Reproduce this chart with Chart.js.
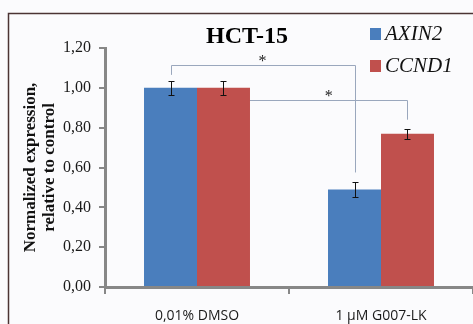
<!DOCTYPE html>
<html>
<head>
<meta charset="utf-8">
<script src="https://cdn.jsdelivr.net/npm/chart.js@4/dist/chart.umd.min.js"></script>
<style>
  html, body { margin: 0; padding: 0; background: #fbfbfd; }
  canvas { display: block; }
</style>
</head>
<body>
<canvas id="myChart" width="473" height="324"></canvas>
<script>
// groups and genes
const groups = ['0,01% DMSO', '1 µM G007-LK'];
const genes = ['AXIN2', 'CCND1'];

// normalized expression (relative to control) and error bar half-widths
const axin2Values = [1.00, 0.49];
const axin2Errors = [0.035, 0.037];
const ccnd1Values = [1.00, 0.77];
const ccnd1Errors = [0.035, 0.025];

const yTickLabels = ['0,00', '0,20', '0,40', '0,60', '0,80', '1,00', '1,20'];

// significance brackets: from group 0 to group 1 of the same gene
const brackets = [
  { ds: 0, level: 1.115, leftDrop: 1.065, rightDrop: 0.575 },
  { ds: 1, level: 0.94, leftDrop: 0.94, rightDrop: 0.84 }
];

const blue = '#4a7ebd';
const red = '#c0504d';
const axisGray = '#878787';

const background = {
  id: 'background',
  beforeDraw(chart) {
    const ctx = chart.ctx;
    ctx.save();
    ctx.fillStyle = '#fbfbfd';
    ctx.fillRect(0, 0, chart.width, chart.height);
    // frame around the figure
    ctx.strokeStyle = '#4b3434';
    ctx.lineWidth = 1.5;
    ctx.beginPath();
    ctx.moveTo(8.5, chart.height);
    ctx.lineTo(8.5, 13.5);
    ctx.lineTo(chart.width, 13.5);
    ctx.stroke();
    ctx.restore();
  }
};

const sigBrackets = {
  id: 'sigBrackets',
  beforeDatasetsDraw(chart) {
    const ctx = chart.ctx;
    const y = chart.scales.y;
    ctx.save();
    ctx.strokeStyle = '#9aa7bd';
    ctx.lineWidth = 1;
    brackets.forEach(b => {
      const bars = chart.getDatasetMeta(b.ds).data;
      const x0 = Math.round(bars[0].x) + 0.5;
      const x1 = Math.round(bars[1].x) + 0.5;
      const yl = Math.round(y.getPixelForValue(b.level)) + 0.5;
      ctx.beginPath();
      ctx.moveTo(x0, y.getPixelForValue(b.leftDrop));
      ctx.lineTo(x0, yl);
      ctx.lineTo(x1, yl);
      ctx.lineTo(x1, y.getPixelForValue(b.rightDrop));
      ctx.stroke();
    });
    ctx.restore();
  },
  afterDatasetsDraw(chart) {
    const ctx = chart.ctx;
    const y = chart.scales.y;
    const data = chart.data.datasets;
    ctx.save();
    ctx.fillStyle = '#222';
    ctx.font = '16px "Liberation Serif"';
    ctx.textAlign = 'center';
    ctx.textBaseline = 'alphabetic';
    brackets.forEach(b => {
      const bars = chart.getDatasetMeta(b.ds).data;
      // the visible part of the line starts where the first bar ends
      let start = bars[0].x;
      if (b.level < data[b.ds].data[0]) start = bars[0].x + bars[0].width / 2;
      const mid = (start + bars[1].x) / 2;
      ctx.fillText('*', mid, y.getPixelForValue(b.level) + 1);
    });
    ctx.restore();
  }
};

const errorBars = {
  id: 'errorBars',
  afterDatasetsDraw(chart) {
    const ctx = chart.ctx;
    const y = chart.scales.y;
    ctx.save();
    ctx.strokeStyle = '#111';
    ctx.lineWidth = 1;
    chart.data.datasets.forEach((ds, i) => {
      chart.getDatasetMeta(i).data.forEach((bar, j) => {
        const v = ds.data[j], e = ds.errors[j];
        const x = Math.round(bar.x) + 0.5;
        const top = Math.round(y.getPixelForValue(v + e)) + 0.5;
        const bot = Math.round(y.getPixelForValue(v - e)) + 0.5;
        ctx.beginPath();
        ctx.moveTo(x, top); ctx.lineTo(x, bot);
        ctx.moveTo(x - 3, top); ctx.lineTo(x + 3, top);
        ctx.moveTo(x - 3, bot); ctx.lineTo(x + 3, bot);
        ctx.stroke();
      });
    });
    ctx.restore();
  }
};

const titleAndLegend = {
  id: 'titleAndLegend',
  afterDraw(chart) {
    const ctx = chart.ctx;
    ctx.save();
    ctx.fillStyle = '#000';
    ctx.font = 'bold 24px "Liberation Serif"';
    ctx.textAlign = 'center';
    ctx.textBaseline = 'alphabetic';
    ctx.fillText('HCT-15', 247, 43);

    ctx.font = 'italic 21px "Liberation Serif"';
    ctx.textAlign = 'left';
    ctx.textBaseline = 'middle';
    chart.data.datasets.forEach((ds, i) => {
      const cy = 34 + i * 32;
      ctx.fillStyle = ds.backgroundColor;
      ctx.fillRect(370, cy - 6, 11, 12);
      ctx.fillStyle = '#111';
      ctx.fillText(ds.label, 385, cy);
    });
    ctx.restore();
  }
};

const ctx = document.getElementById('myChart').getContext('2d');
const myChart = new Chart(ctx, {
  type: 'bar',
  data: {
    labels: groups,
    datasets: [
      { label: genes[0], data: axin2Values, errors: axin2Errors, backgroundColor: blue },
      { label: genes[1], data: ccnd1Values, errors: ccnd1Errors, backgroundColor: red }
    ]
  },
  options: {
    responsive: false,
    animation: false,
    devicePixelRatio: 1,
    layout: { padding: { top: 48, right: 0, bottom: 0, left: 0 } },
    datasets: {
      bar: { barPercentage: 1, categoryPercentage: 0.576 }
    },
    plugins: {
      legend: { display: false },
      tooltip: { enabled: false }
    },
    scales: {
      x: {
        afterFit(scale) { scale.height = 37; },
        grid: { drawOnChartArea: false, drawTicks: true, tickLength: 7, color: axisGray, lineWidth: 2 },
        border: { color: axisGray, width: 3 },
        ticks: {
          color: '#1a1a1a',
          padding: 14,
          font: { family: '"Open Sans"', size: 14 }
        }
      },
      y: {
        min: 0,
        max: 1.2,
        afterFit(scale) { scale.width = 105; },
        grid: { drawOnChartArea: false, drawTicks: true, tickLength: 6, color: axisGray, lineWidth: 2 },
        border: { color: axisGray, width: 3 },
        ticks: {
          stepSize: 0.2,
          padding: 8,
          color: '#1a1a1a',
          font: { family: '"Liberation Serif"', size: 16 },
          callback: (v, i) => yTickLabels[i]
        },
        title: {
          display: true,
          text: ['Normalized expression,', 'relative to control'],
          color: '#111',
          padding: { top: 21, bottom: 0 },
          font: { family: '"Liberation Serif"', size: 17, weight: 'bold', lineHeight: 1.12 }
        }
      }
    }
  },
  plugins: [background, sigBrackets, errorBars, titleAndLegend]
});
</script>
</body>
</html>
